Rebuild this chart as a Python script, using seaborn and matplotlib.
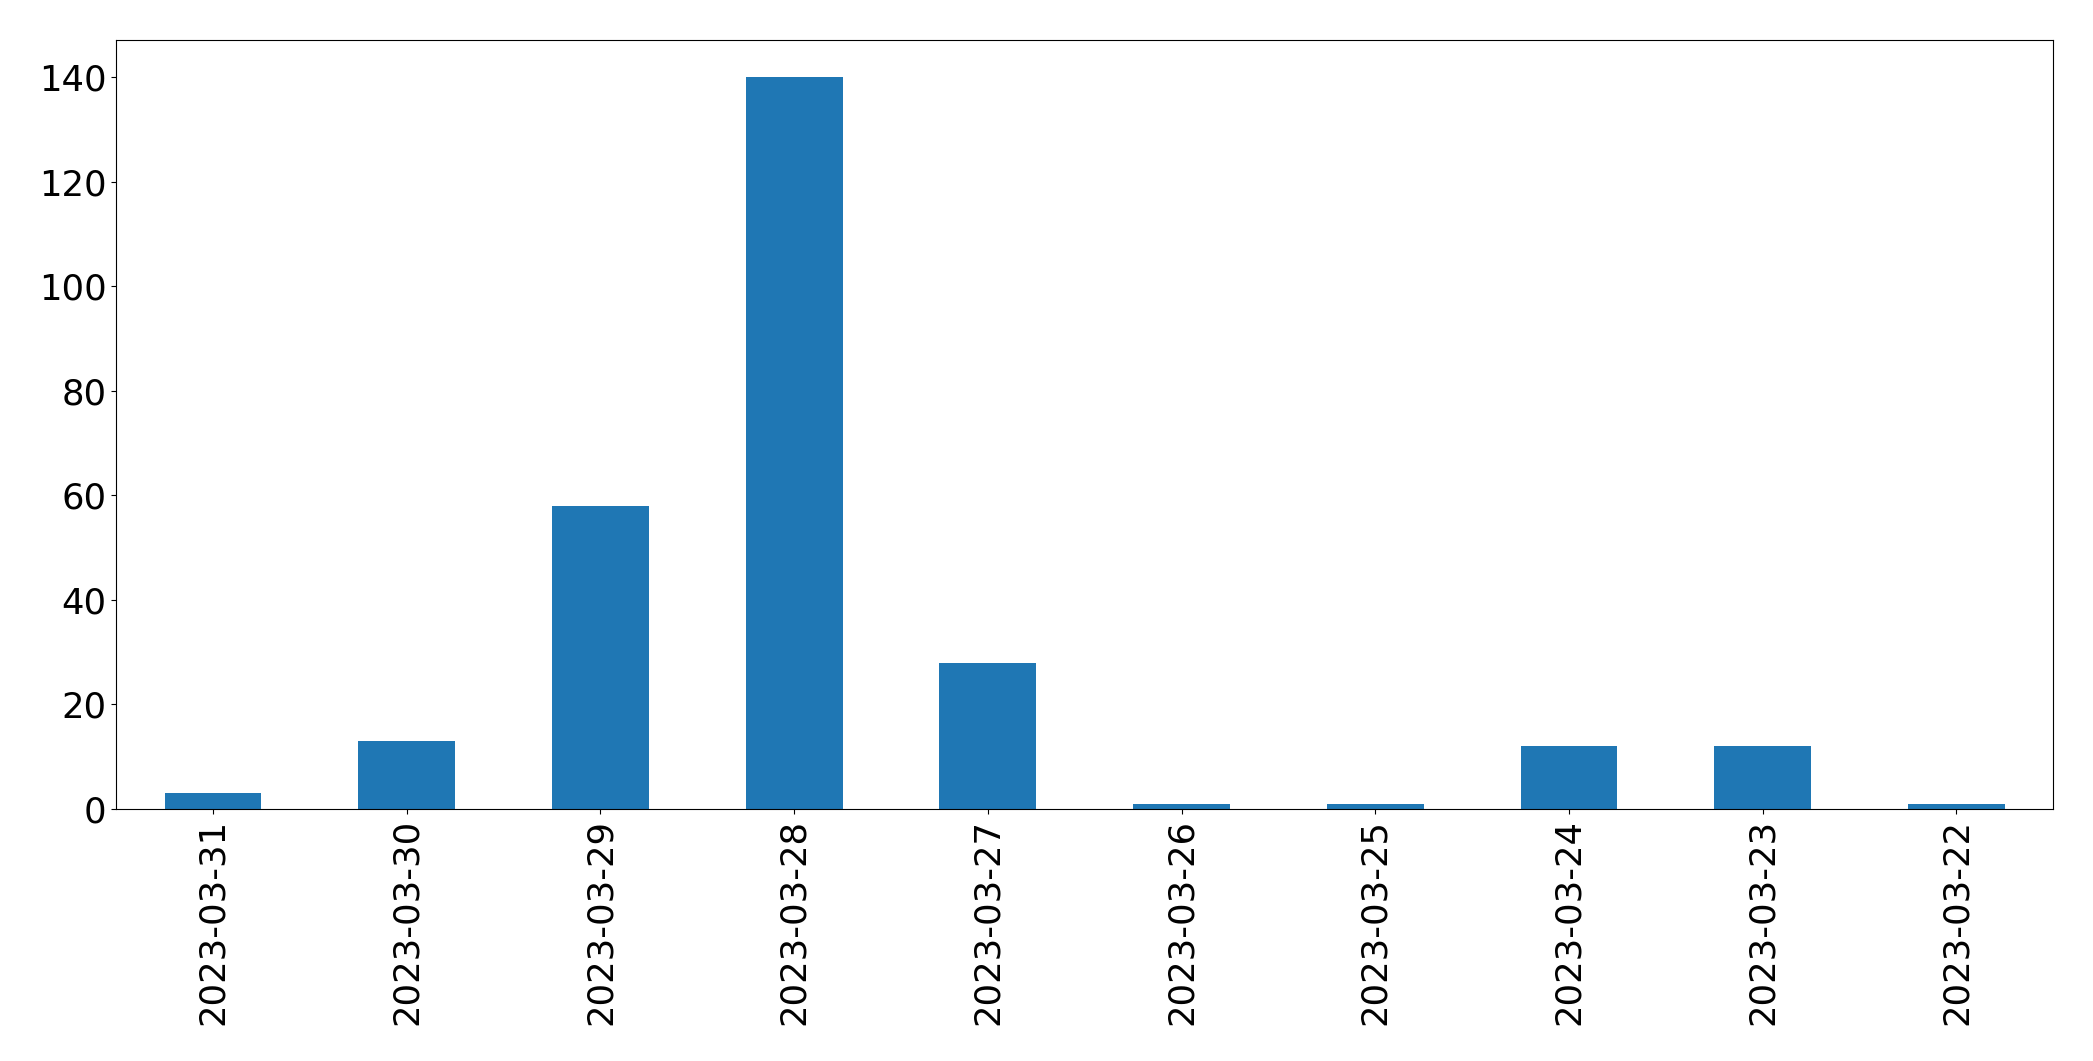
import pandas as pd
import seaborn as sns
import matplotlib
matplotlib.use('Agg')
import matplotlib.pyplot as plt

dates = ['2023-03-31', '2023-03-30', '2023-03-29', '2023-03-28', '2023-03-27',
         '2023-03-26', '2023-03-25', '2023-03-24', '2023-03-23', '2023-03-22']
counts = [3, 13, 58, 140, 28, 1, 1, 12, 12, 1]

df = pd.DataFrame({'date': dates, 'count': counts})

fig, ax = plt.subplots(figsize=(20.93, 10.61), dpi=100)
fig.subplots_adjust(left=0.0555, right=0.981, top=0.962, bottom=0.2375)
sns.barplot(x='date', y='count', data=df, order=dates, color='#1f77b4',
            saturation=1, width=0.5, linewidth=0, ax=ax)
ax.set_xlim(-0.5, len(dates) - 0.5)
ax.set_ylim(0, 147)
ax.set_xlabel('')
ax.set_ylabel('')
for s in ax.spines.values():
    s.set_color('black')
ax.tick_params(axis='both', labelsize=25.5)
ax.tick_params(axis='x', labelrotation=90)
plt.savefig('out.png', dpi=100)
